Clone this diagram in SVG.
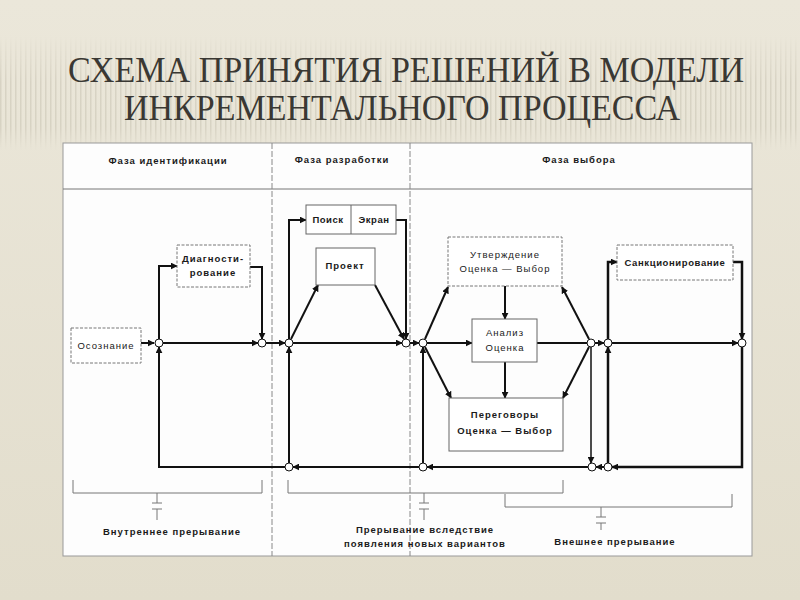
<svg xmlns="http://www.w3.org/2000/svg" width="800" height="600" viewBox="0 0 800 600">
<defs>
<linearGradient id="bg" x1="0" y1="0" x2="0" y2="1">
<stop offset="0" stop-color="#ebe7da"/>
<stop offset="1" stop-color="#e2ddcc"/>
</linearGradient>
<pattern id="stripes" width="5" height="10" patternUnits="userSpaceOnUse">
<rect x="0" y="0" width="1.5" height="10" fill="#b8b2a0"/>
</pattern>
<linearGradient id="fade" x1="0" y1="0" x2="0" y2="1">
<stop offset="0" stop-color="#fff" stop-opacity="0"/>
<stop offset="0.4" stop-color="#fff" stop-opacity="1"/>
<stop offset="0.8" stop-color="#fff" stop-opacity="1"/>
<stop offset="1" stop-color="#fff" stop-opacity="0"/>
</linearGradient>
<mask id="m"><rect x="0" y="35" width="800" height="115" fill="url(#fade)"/></mask>
<marker id="ar" viewBox="0 0 10 10" refX="9" refY="5" markerWidth="7" markerHeight="7" markerUnits="userSpaceOnUse" orient="auto">
<path d="M0,0 L10,5 L0,10 z" fill="#111"/>
</marker>
<style>
.title{font-family:"Liberation Serif","DejaVu Serif",serif;font-size:36px;fill:#3a3833;}
.t{font-family:"Liberation Sans",Arial,sans-serif;font-size:9.5px;font-weight:bold;fill:#1a1a1a;text-anchor:middle;letter-spacing:1px;}
.box{fill:#fff;stroke:#666;stroke-width:1;}
.dbox{fill:#fff;stroke:#777;stroke-width:1;stroke-dasharray:3,1.5;}
.c{fill:none;stroke:#111;stroke-width:2;}
.ca{fill:none;stroke:#111;stroke-width:2;marker-end:url(#ar);}
.thin{fill:none;stroke:#777;stroke-width:1;}
.div{fill:none;stroke:#888;stroke-width:1;stroke-dasharray:6,2;}
.node{fill:#fff;stroke:#111;stroke-width:1;}
</style>
</defs>
<rect width="800" height="600" fill="url(#bg)"/>
<rect x="0" y="35" width="800" height="115" fill="url(#stripes)" opacity="0.35" mask="url(#m)"/>
<text class="title" x="406" y="82" text-anchor="middle" textLength="676" lengthAdjust="spacingAndGlyphs">СХЕМА ПРИНЯТИЯ РЕШЕНИЙ В МОДЕЛИ</text>
<text class="title" x="402" y="120" text-anchor="middle" textLength="556" lengthAdjust="spacingAndGlyphs">ИНКРЕМЕНТАЛЬНОГО ПРОЦЕССА</text>

<g id="panel">
<rect x="63" y="143" width="689" height="413" fill="#fdfdfd" stroke="#999" stroke-width="1"/>
<line x1="63" y1="189" x2="752" y2="189" stroke="#777" stroke-width="1"/>
<line class="div" x1="272" y1="143" x2="272" y2="556"/>
<line class="div" x1="410" y1="143" x2="410" y2="556"/>
<text class="t" x="168" y="164">Фаза идентификации</text>
<text class="t" x="342" y="163">Фаза разработки</text>
<text class="t" x="579" y="163">Фаза выбора</text>
</g>

<g id="connectors">
<path class="ca" d="M141,343 H154"/>
<path class="ca" d="M163,343 H258"/>
<path class="ca" d="M266,343 H285"/>
<path class="ca" d="M293,343 H402"/>
<path class="ca" d="M410,343 H419"/>
<path class="ca" d="M427,343 H472"/>
<path class="c" d="M537,343 H587"/>
<path class="ca" d="M595,343 H604"/>
<path class="ca" d="M612,343 H738"/>
<path class="ca" d="M159,339 V266 H177"/>
<path class="ca" d="M250,267 H262 V339"/>
<path class="ca" d="M289,339 V220 H306"/>
<path class="ca" d="M396,220 H406 V339"/>
<path class="ca" d="M291,339 L318,285"/>
<path class="ca" d="M375,285 L404,339"/>
<path class="ca" d="M425,339 L448,287"/>
<path class="ca" d="M589,339 L562,287"/>
<path class="ca" d="M505,286 V319"/>
<path class="ca" d="M505,362 V398"/>
<path class="ca" d="M425,347 L451,398"/>
<path class="ca" d="M589,347 L563,398"/>
<path class="ca" d="M608,339 V262 H617" style="stroke-width:2.5"/>
<path class="ca" d="M733,262 H742 V339" style="stroke-width:2.5"/>
<path class="ca" d="M742,347 V467 H612" style="stroke-width:2.5"/>
<path class="ca" d="M604,467 H596"/>
<path class="ca" d="M588,467 H427"/>
<path class="ca" d="M419,467 H293"/>
<path class="ca" d="M285,467 H159 V347"/>
<path class="ca" d="M289,463 V347"/>
<path class="ca" d="M423,463 V347"/>
<path class="ca" d="M608,463 V347" style="stroke-width:2.5"/>
<path class="ca" d="M591,347 V463" style="stroke-width:1.5"/>
</g>

<g id="osoznanie">
<rect class="dbox" x="71" y="328" width="70" height="35"/>
<text class="t" x="106" y="349" style="font-weight:normal">Осознание</text>
</g>
<g id="diagnostirovanie">
<rect class="dbox" x="177" y="245" width="73" height="42"/>
<text class="t" x="213" y="262">Диагности-</text>
<text class="t" x="213" y="276">рование</text>
</g>
<g id="poisk-ekran">
<rect class="box" x="306" y="205" width="90" height="29"/>
<line x1="351" y1="205" x2="351" y2="234" stroke="#666" stroke-width="1"/>
<text class="t" x="328" y="223" style="letter-spacing:0.5px">Поиск</text>
<text class="t" x="374" y="223" style="letter-spacing:0.5px">Экран</text>
</g>
<g id="proekt">
<rect class="box" x="316" y="248" width="59" height="37"/>
<text class="t" x="345" y="269">Проект</text>
</g>
<g id="utverzhdenie">
<rect class="dbox" x="448" y="237" width="114" height="49"/>
<text class="t" x="505" y="258" style="font-weight:normal">Утверждение</text>
<text class="t" x="505" y="272" style="font-weight:normal">Оценка — Выбор</text>
</g>
<g id="analiz">
<rect class="box" x="472" y="319" width="65" height="43"/>
<text class="t" x="505" y="336" style="font-weight:normal">Анализ</text>
<text class="t" x="505" y="351" style="font-weight:normal">Оценка</text>
</g>
<g id="peregovory">
<rect class="box" x="449" y="398" width="114" height="53"/>
<text class="t" x="505" y="418">Переговоры</text>
<text class="t" x="505" y="434">Оценка — Выбор</text>
</g>
<g id="sankcionirovanie">
<rect class="dbox" x="617" y="245" width="116" height="35"/>
<text class="t" x="675" y="266" style="letter-spacing:0.6px">Санкционирование</text>
</g>

<g id="nodes">
<circle class="node" cx="159" cy="343" r="4"/>
<circle class="node" cx="262" cy="343" r="4"/>
<circle class="node" cx="289" cy="343" r="4"/>
<circle class="node" cx="406" cy="343" r="4"/>
<circle class="node" cx="423" cy="343" r="4"/>
<circle class="node" cx="591" cy="343" r="4"/>
<circle class="node" cx="608" cy="343" r="4"/>
<circle class="node" cx="742" cy="343" r="4"/>
<circle class="node" cx="289" cy="467" r="4"/>
<circle class="node" cx="423" cy="467" r="4"/>
<circle class="node" cx="592" cy="467" r="4"/>
<circle class="node" cx="608" cy="467" r="4"/>
</g>

<g id="interruptions">
<path class="thin" d="M73,480 V493 H262 V480"/>
<path class="thin" d="M157,493 V503 M152,503 H162 M152,509 H162 M157,509 V520"/>
<text class="t" x="172" y="535">Внутреннее прерывание</text>
<path class="thin" d="M288,480 V493 H563 V480"/>
<path class="thin" d="M424,493 V503 M419,503 H429 M419,509 H429 M424,509 V520"/>
<text class="t" x="425" y="533">Прерывание вследствие</text>
<text class="t" x="425" y="547">появления новых вариантов</text>
<path class="thin" d="M505,494 V507 H732 V494"/>
<path class="thin" d="M601,507 V517 M596,517 H606 M596,523 H606 M601,523 V530"/>
<text class="t" x="615" y="545">Внешнее прерывание</text>
</g>
</svg>
